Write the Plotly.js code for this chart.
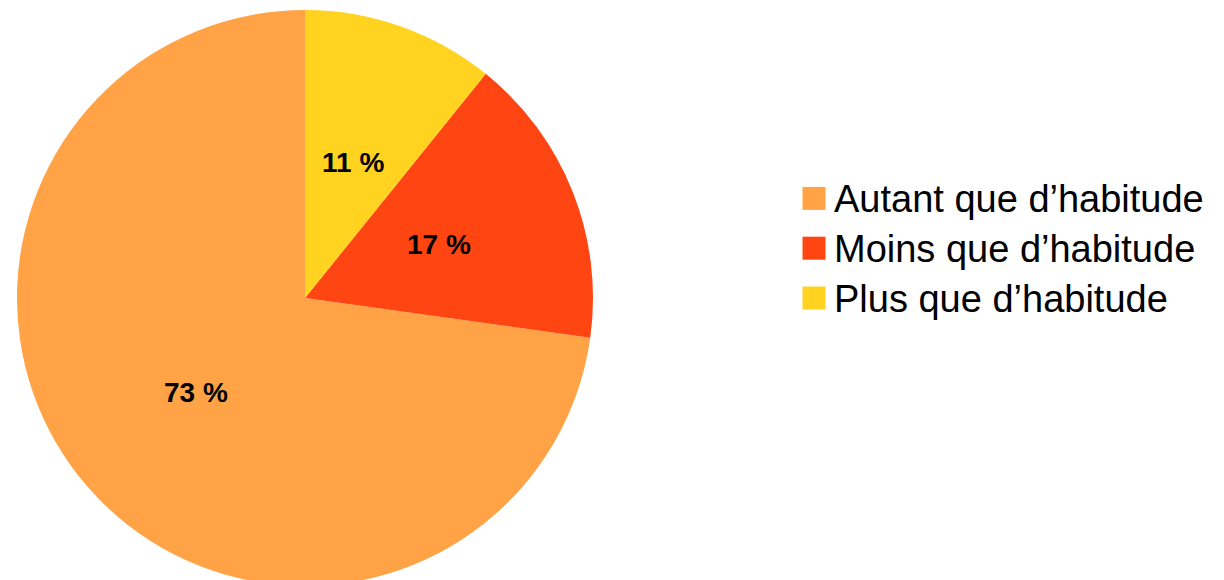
<!DOCTYPE html>
<html>
<head>
<meta charset="utf-8">
<script src="https://cdn.plot.ly/plotly-3.0.1.min.js"></script>
<style>
html, body { margin: 0; padding: 0; background: #ffffff; overflow: hidden; }
#chart { width: 1224px; height: 600px; }
</style>
</head>
<body>
<div id="chart"></div>
<script>
var categories = ["Autant que d\u2019habitude", "Moins que d\u2019habitude", "Plus que d\u2019habitude"];
var shares = [72.8, 16.4, 10.8];
var shareLabels = ["73 %", "17 %", "11 %"];
var sliceColors = ["#FFA346", "#FF4512", "#FFD320"];

var W = 1224, H = 600;
var pieDomain = { x: [17 / W, 593 / W], y: [14 / H, 590 / H] };

var total = shares.reduce(function (a, b) { return a + b; }, 0);
var startRotation = (shares[1] + shares[2]) / total * 360;

// label positions: halfway along each slice's bisector (derived from the data)
var cxPx = (pieDomain.x[0] + pieDomain.x[1]) / 2 * W;
var cyPx = (pieDomain.y[0] + pieDomain.y[1]) / 2 * H;
var rPx = Math.min((pieDomain.x[1] - pieDomain.x[0]) * W, (pieDomain.y[1] - pieDomain.y[0]) * H) / 2;
var annotations = [];
var cum = 0;
// slices run clockwise from 12 o'clock in the order Plus, Moins, Autant
[2, 1, 0].forEach(function (i) {
  var mid = (cum + shares[i] / 2) / total * 2 * Math.PI;
  cum += shares[i];
  annotations.push({
    xref: "paper", yref: "paper",
    x: (cxPx + 0.5 * rPx * Math.sin(mid)) / W,
    y: (cyPx + 0.5 * rPx * Math.cos(mid)) / H,
    xanchor: "center", yanchor: "middle",
    text: shareLabels[i],
    showarrow: false,
    font: { family: "Liberation Sans, Arial, sans-serif", size: 28, color: "#000000", weight: "bold" }
  });
});

var trace = {
  type: "pie",
  labels: categories,
  values: shares,
  textinfo: "none",
  sort: false,
  direction: "counterclockwise",
  rotation: startRotation,
  marker: { colors: sliceColors, line: { width: 0 } },
  hoverinfo: "label+percent",
  domain: pieDomain
};

var layout = {
  width: W,
  height: H,
  margin: { l: 0, r: 0, t: 0, b: 0, pad: 0 },
  paper_bgcolor: "#ffffff",
  showlegend: true,
  annotations: annotations,
  legend: {
    x: 794 / W,
    xanchor: "left",
    y: (H - 248.5) / H,
    yanchor: "middle",
    font: { family: "Liberation Sans, Arial, sans-serif", size: 36, color: "#000000" },
    bgcolor: "rgba(0,0,0,0)",
    borderwidth: 0,
    tracegroupgap: 0
  }
};

Plotly.newPlot("chart", [trace], layout, { displayModeBar: false, staticPlot: true }).then(function (gd) {
  gd.querySelectorAll(".legendpoints path.legendpie").forEach(function (p) {
    p.setAttribute("d", "M11.5,11.5H-11.5V-11.5H11.5Z");
  });
  gd.querySelectorAll(".legend text.legendtext").forEach(function (t) {
    t.style.fontSize = "38px";
  });
  gd.querySelectorAll(".legend .scrollbox, .legend [clip-path]").forEach(function (s) {
    s.removeAttribute("clip-path");
  });
});
</script>
</body>
</html>
